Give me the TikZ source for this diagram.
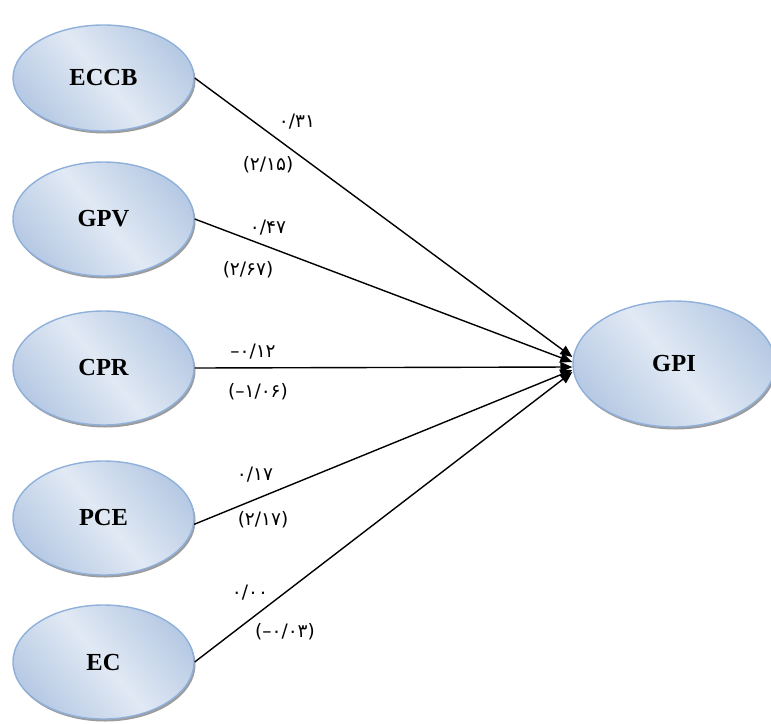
\documentclass[tikz,border=0pt]{standalone}
\usepackage{fontspec}
\setmainfont{Liberation Serif}
\newfontfamily\fadigits{DejaVu Sans}
\usetikzlibrary{shapes.geometric,shadows,arrows.meta}
\definecolor{ellLight}{HTML}{E1E9F4}
\definecolor{ellDark}{HTML}{B7CAE4}
\definecolor{ellBorder}{HTML}{8FB0DA}
\definecolor{ellShadow}{HTML}{9C9C9C}
\tikzset{
  latent/.style={ellipse, draw=ellBorder, line width=1.4pt,
    top color=ellDark, bottom color=ellDark, middle color=ellLight, shading angle=-50,
    drop shadow={shadow xshift=1.5pt, shadow yshift=-2.5pt, fill=ellShadow, opacity=1},
    minimum width=181pt, minimum height=114pt, inner sep=0pt,
    font=\fontsize{24.5}{28}\selectfont\bfseries},
  path/.style={line width=1.4pt, -{Triangle[length=12pt,width=10pt]}},
  coef/.style={font=\fadigits\fontsize{18.5}{20}\selectfont, inner sep=0pt}
}
\begin{document}
\begin{tikzpicture}[x=1pt,y=-1pt]
\useasboundingbox (0,0) rectangle (771,723);
\node[latent, minimum height=106pt] (ECCB) at (103.5,78) {ECCB};
\node[latent] (GPV) at (103.5,219) {GPV};
\node[latent] (CPR) at (103.5,368) {CPR};
\node[latent] (PCE) at (103.5,518) {PCE};
\node[latent] (EC) at (103.5,662) {EC};
\node[latent, minimum width=202pt, minimum height=126pt] (GPI) at (674,364) {GPI};
\coordinate (t1) at ([yshift=7pt]GPI.west);
\coordinate (t2) at ([yshift=2pt]GPI.west);
\coordinate (t3) at ([yshift=-3pt]GPI.west);
\coordinate (t4) at ([yshift=-6pt]GPI.west);
\coordinate (t5) at ([yshift=-8pt]GPI.west);
\draw[path] (ECCB.east) -- (t1);
\draw[path] (GPV.east) -- (t2);
\draw[path] (CPR.east) -- (t3);
\draw[path] (PCE.-4) -- (t4);
\draw[path] (EC.east) -- (t5);
\node[coef] (c1) at (297,122) {۰/۳۱};
\node[coef] (c2) at (268,165) {(۲/۱۵)};
\node[coef] (c3) at (268,228) {۰/۴۷};
\node[coef] (c4) at (248,270) {(۲/۶۷)};
\node[coef] (c5) at (253,352) {–۰/۱۲};
\node[coef] (c6) at (258,392) {(–۱/۰۶)};
\node[coef] (c7) at (255,475) {۰/۱۷};
\node[coef] (c8) at (263,520) {(۲/۱۷)};
\node[coef] (c9) at (250,593) {۰/۰۰};
\node[coef] (c10) at (285,632) {(–۰/۰۳)};
\end{tikzpicture}
\end{document}
